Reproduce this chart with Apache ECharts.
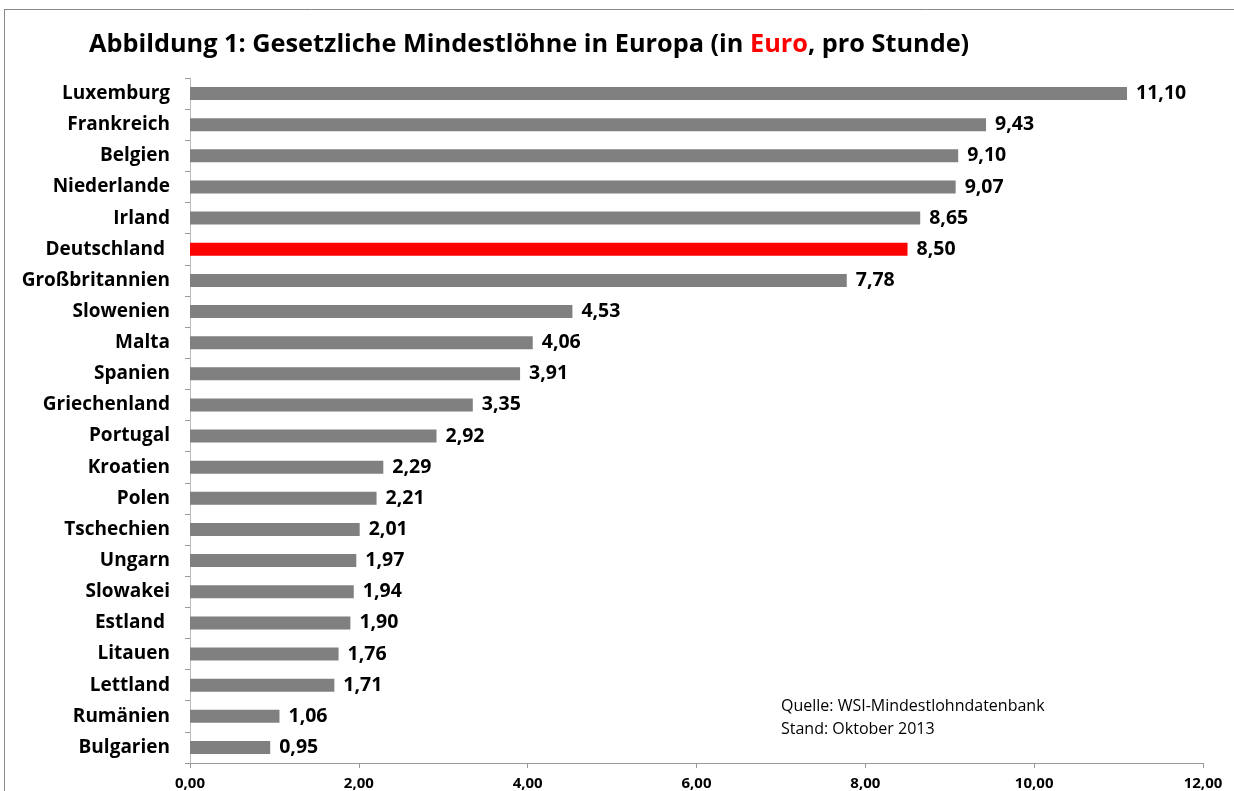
<!DOCTYPE html>
<html>
<head>
<meta charset="utf-8">
<script src="https://cdn.jsdelivr.net/npm/echarts@6/dist/echarts.min.js"></script>
<style>html,body{margin:0;padding:0;background:#fff}#c{width:1234px;height:791px}</style>
</head>
<body>
<div id="c"></div>
<script>
const categories = ['Luxemburg','Frankreich','Belgien','Niederlande','Irland','Deutschland ','Großbritannien','Slowenien','Malta','Spanien','Griechenland','Portugal','Kroatien','Polen','Tschechien','Ungarn','Slowakei','Estland ','Litauen','Lettland','Rumänien','Bulgarien'];
const values = [11.10, 9.43, 9.10, 9.07, 8.65, 8.50, 7.78, 4.53, 4.06, 3.91, 3.35, 2.92, 2.29, 2.21, 2.01, 1.97, 1.94, 1.90, 1.76, 1.71, 1.06, 0.95];
const highlighted = 'Deutschland ';
const xTicks = [0, 2, 4, 6, 8, 10, 12];

const FONT = 'Open Sans';
const fmt = v => Number(v).toFixed(2).replace('.', ',');

const chart = echarts.init(document.getElementById('c'));
chart.setOption({
  animation: false,
  backgroundColor: '#fff',
  textStyle: { fontFamily: FONT },
  title: [{
    left: 84, top: 27,
    text: '{a|Abbildung 1: Gesetzliche Mindestlöhne in Europa (in }{r|Euro}{a|, pro Stunde)}',
    textStyle: {
      rich: {
        a: { fontFamily: FONT, fontWeight: 'bold', fontSize: 25.3, color: '#000' },
        r: { fontFamily: FONT, fontWeight: 'bold', fontSize: 25.3, color: '#ff0000' }
      }
    }
  }, {
    left: 776, top: 690,
    text: 'Quelle: WSI-Mindestlohndatenbank\nStand: Oktober 2013',
    textStyle: { fontFamily: FONT, fontWeight: 'normal', fontSize: 16, color: '#000', lineHeight: 23 }
  }],
  graphic: [
    { type: 'line', shape: { x1: 4, y1: 9.5, x2: 1234, y2: 9.5 }, style: { stroke: '#888', lineWidth: 1 } },
    { type: 'line', shape: { x1: 4.5, y1: 9, x2: 4.5, y2: 791 }, style: { stroke: '#888', lineWidth: 1 } }
  ],
  grid: { left: 190, right: 31, top: 78, height: 685, containLabel: false },
  xAxis: {
    type: 'value', min: 0, max: 12, interval: 2,
    axisLine: { show: true, lineStyle: { color: '#999', width: 1 } },
    axisTick: { show: true, length: 5, lineStyle: { color: '#999' } },
    splitLine: { show: false },
    axisLabel: { formatter: v => fmt(v), fontFamily: FONT, fontWeight: 'bold', fontSize: 15, color: '#000', margin: 13,
      customValues: xTicks }
  },
  yAxis: {
    type: 'category', data: categories, inverse: true,
    axisLine: { show: true, lineStyle: { color: '#bbb', width: 1 } },
    axisTick: { show: true, length: 5, alignWithLabel: false, lineStyle: { color: '#999' } },
    axisLabel: { fontFamily: FONT, fontWeight: 'bold', fontSize: 19, color: '#000', margin: 20 }
  },
  series: [{
    type: 'bar',
    barWidth: 13,
    data: values.map((v, i) => ({
      value: v,
      itemStyle: { color: categories[i] === highlighted ? '#ff0000' : '#808080' }
    })),
    label: {
      show: true, position: 'right', distance: 9,
      formatter: p => fmt(p.value),
      fontFamily: FONT, fontWeight: 'bold', fontSize: 19.5, color: '#000'
    }
  }]
});
</script>
</body>
</html>
